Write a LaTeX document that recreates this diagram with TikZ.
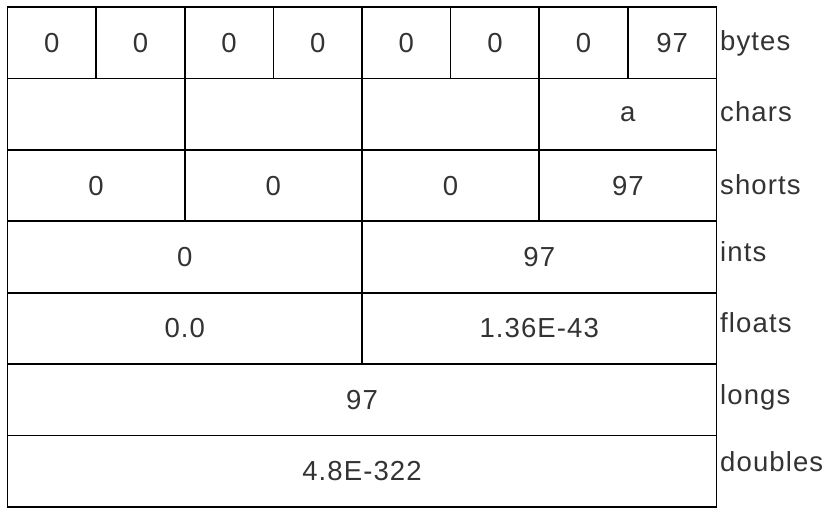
\documentclass[tikz,border=0pt]{standalone}
\usepackage{fontspec}
\setmainfont{Liberation Sans}[LetterSpace=4]
\usetikzlibrary{positioning}
\tikzset{
  cell/.style={draw=black,line width=1.4pt,outer sep=0pt,inner sep=0pt,
    minimum width=#1*2.65875cm,minimum height=2.1429cm,
    text=black!80,font=\fontsize{23.5}{28}\selectfont},
  cell/.default=1,
  tag/.style={anchor=west,inner sep=0pt,text=black!80,
    font=\fontsize{23.5}{28}\selectfont},
}

\begin{document}
\begin{tikzpicture}[x=0.03cm,y=-0.03cm]
  \useasboundingbox (0,0) rectangle (837,532);
  % bytes
  \foreach \v [count=\i] in {0,0,0,0,0,0,0,97}{
    \node[cell] (b\i) at ({7.5+88.625*(\i-0.5)},42.7) {\v};
  }
  % chars and shorts
  \foreach \v [count=\i] in {{},{},{},a}{
    \node[cell=2] (c\i) at ({7.5+177.25*(\i-0.5)},114.1) {\v};
  }
  \foreach \v [count=\i] in {0,0,0,97}{
    \node[cell=2] (s\i) at ({7.5+177.25*(\i-0.5)},185.6) {\v};
  }
  % ints and floats
  \node[cell=4] (i1) at (184.75,257) {0};
  \node[cell=4] (i2) at (539.25,257) {97};
  \node[cell=4] (f1) at (184.75,328.4) {0.0};
  \node[cell=4] (f2) at (539.25,328.4) {1.36E-43};
  % longs and doubles
  \node[cell=8] (l1) at (362,399.9) {97};
  \node[cell=8] (d1) at (362,471.3) {4.8E-322};
  % row names
  \node[tag] (tb) at (720,43) {bytes};
  \node[tag] (tc) at (720,112) {chars};
  \node[tag] (ts) at (720,185) {shorts};
  \node[tag] (ti) at (720,252) {ints};
  \node[tag] (tf) at (720,323) {floats};
  \node[tag] (tl) at (720,397) {longs};
  \node[tag] (td) at (720,462) {doubles};
\end{tikzpicture}
\end{document}
